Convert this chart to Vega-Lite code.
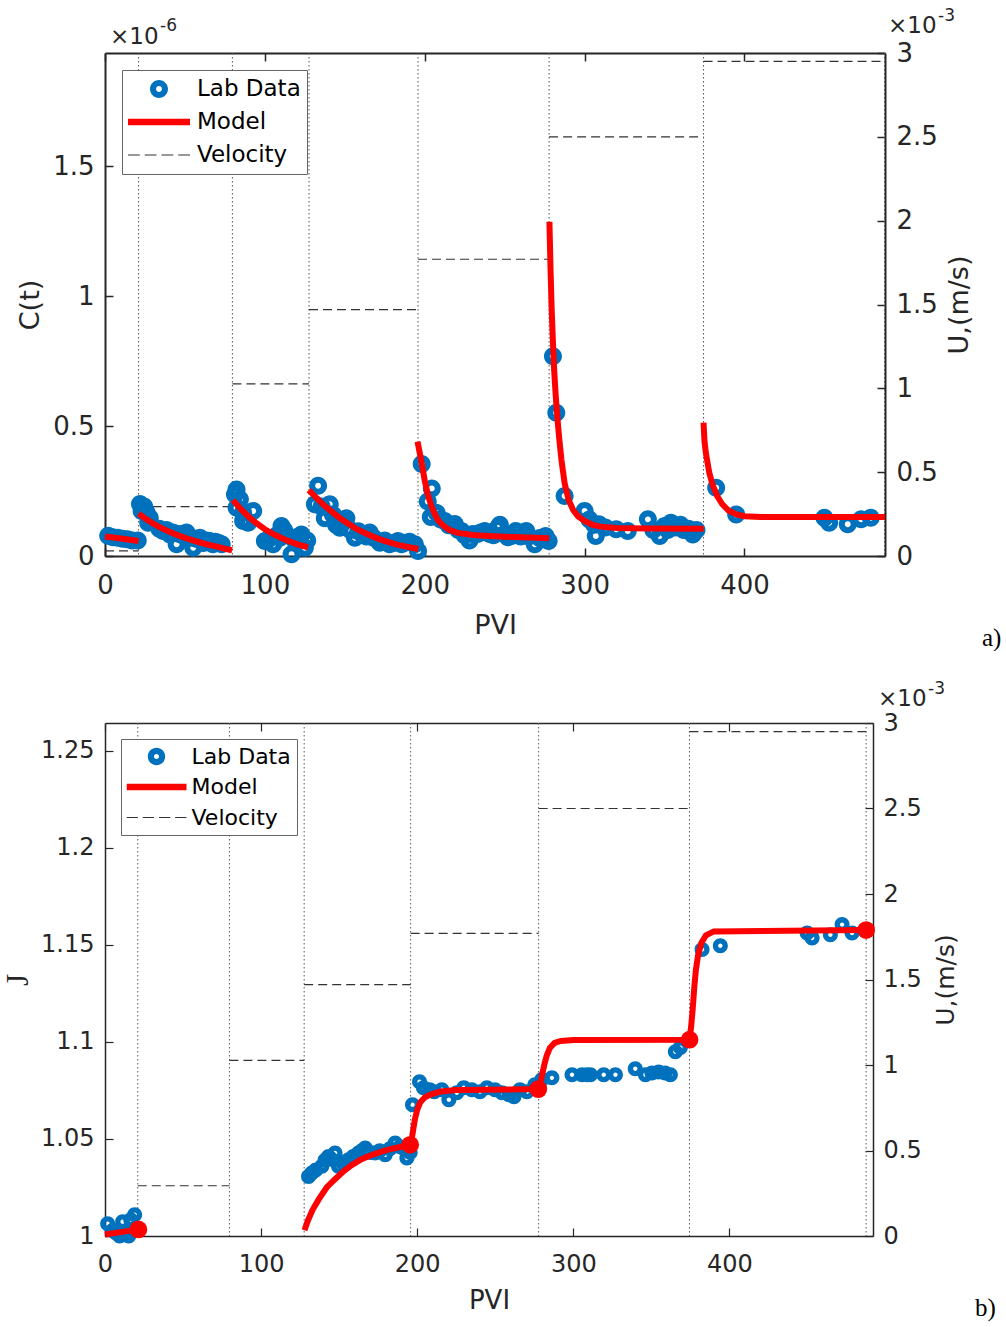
{
  "$schema": "https://vega.github.io/schema/vega-lite/v6.json",
  "background": "white",
  "padding": {"left": 2, "top": 7, "right": 2, "bottom": 3},
  "spacing": 29,
  "resolve": {"scale": {"color": "independent", "shape": "independent"}, "legend": {"color": "independent", "shape": "independent"}},
  "datasets": {
    "one": [{}],
    "vel_top": [
      {"x0": 0, "x1": 21, "u": 0.03}, {"x0": 21, "x1": 79.7, "u": 0.294}, {"x0": 79.7, "x1": 127.6, "u": 1.027},
      {"x0": 127.6, "x1": 195.8, "u": 1.47}, {"x0": 195.8, "x1": 277.8, "u": 1.77}, {"x0": 277.8, "x1": 374.4, "u": 2.5},
      {"x0": 374.4, "x1": 487.9, "u": 2.95}
    ],
    "vel_bot": [
      {"x0": 0, "x1": 21, "u": 0.03}, {"x0": 21, "x1": 79.7, "u": 0.294}, {"x0": 79.7, "x1": 127.6, "u": 1.027},
      {"x0": 127.6, "x1": 195.8, "u": 1.47}, {"x0": 195.8, "x1": 277.8, "u": 1.77}, {"x0": 277.8, "x1": 374.4, "u": 2.5},
      {"x0": 374.4, "x1": 487.6, "u": 2.95}
    ],
    "div": [{"p": 21}, {"p": 79.7}, {"p": 127.6}, {"p": 195.8}, {"p": 277.8}, {"p": 374.4}, {"p": 487.6}],
    "pts_top": [
      {"p": 2, "c": 0.078}, {"p": 5, "c": 0.072}, {"p": 8, "c": 0.07}, {"p": 11, "c": 0.066}, {"p": 14, "c": 0.064}, {"p": 17, "c": 0.06}, {"p": 20.5, "c": 0.06},
      {"p": 21.9, "c": 0.2}, {"p": 22.9, "c": 0.173}, {"p": 24.5, "c": 0.19}, {"p": 26, "c": 0.167}, {"p": 27, "c": 0.128}, {"p": 28, "c": 0.147},
      {"p": 34, "c": 0.105}, {"p": 36.4, "c": 0.096}, {"p": 38.5, "c": 0.1}, {"p": 40.6, "c": 0.083}, {"p": 42.5, "c": 0.09}, {"p": 44.8, "c": 0.045},
      {"p": 46.5, "c": 0.085}, {"p": 48.5, "c": 0.08}, {"p": 51, "c": 0.09}, {"p": 53, "c": 0.07}, {"p": 55.2, "c": 0.032}, {"p": 57, "c": 0.066},
      {"p": 59.4, "c": 0.07}, {"p": 61.5, "c": 0.05}, {"p": 63.5, "c": 0.06}, {"p": 65.6, "c": 0.058}, {"p": 67.5, "c": 0.045}, {"p": 69, "c": 0.055},
      {"p": 70.8, "c": 0.051}, {"p": 73, "c": 0.045},
      {"p": 81.3, "c": 0.237}, {"p": 82.3, "c": 0.256}, {"p": 82.3, "c": 0.186}, {"p": 84.4, "c": 0.218}, {"p": 86.4, "c": 0.167}, {"p": 86.4, "c": 0.135},
      {"p": 89.6, "c": 0.128}, {"p": 92.7, "c": 0.173}, {"p": 100, "c": 0.058}, {"p": 102.5, "c": 0.065}, {"p": 105.2, "c": 0.045}, {"p": 107.5, "c": 0.08},
      {"p": 109.4, "c": 0.07}, {"p": 110.4, "c": 0.115}, {"p": 112, "c": 0.1}, {"p": 113.5, "c": 0.083}, {"p": 116.7, "c": 0.007}, {"p": 118, "c": 0.065},
      {"p": 119.8, "c": 0.058}, {"p": 121, "c": 0.075}, {"p": 122.9, "c": 0.083}, {"p": 125, "c": 0.032}, {"p": 126.5, "c": 0.06},
      {"p": 131.3, "c": 0.199}, {"p": 133.3, "c": 0.27}, {"p": 135.5, "c": 0.19}, {"p": 137.5, "c": 0.145}, {"p": 140.6, "c": 0.199}, {"p": 142.5, "c": 0.16},
      {"p": 144.5, "c": 0.12}, {"p": 146.9, "c": 0.109}, {"p": 149, "c": 0.13}, {"p": 151, "c": 0.145}, {"p": 153.5, "c": 0.1}, {"p": 156.3, "c": 0.07},
      {"p": 158.5, "c": 0.095}, {"p": 161.5, "c": 0.083}, {"p": 163.5, "c": 0.075}, {"p": 165.6, "c": 0.09}, {"p": 168, "c": 0.07}, {"p": 171.9, "c": 0.051},
      {"p": 175, "c": 0.06}, {"p": 178, "c": 0.045}, {"p": 180.5, "c": 0.05}, {"p": 183.3, "c": 0.058}, {"p": 185.5, "c": 0.045}, {"p": 187.5, "c": 0.051},
      {"p": 190.5, "c": 0.055}, {"p": 193.8, "c": 0.045}, {"p": 195.8, "c": 0.019},
      {"p": 198.1, "c": 0.354}, {"p": 201.9, "c": 0.21}, {"p": 203.8, "c": 0.15}, {"p": 204.4, "c": 0.26}, {"p": 207.5, "c": 0.165}, {"p": 210, "c": 0.14},
      {"p": 212.5, "c": 0.135}, {"p": 215, "c": 0.118}, {"p": 218.8, "c": 0.123}, {"p": 221, "c": 0.1}, {"p": 223, "c": 0.096}, {"p": 225, "c": 0.08},
      {"p": 228, "c": 0.06}, {"p": 230, "c": 0.085}, {"p": 233, "c": 0.085}, {"p": 235, "c": 0.09}, {"p": 237.5, "c": 0.096}, {"p": 240.6, "c": 0.085},
      {"p": 243, "c": 0.08}, {"p": 245.6, "c": 0.108}, {"p": 247, "c": 0.12}, {"p": 250, "c": 0.085}, {"p": 252, "c": 0.072}, {"p": 254.4, "c": 0.077},
      {"p": 257, "c": 0.096}, {"p": 260, "c": 0.075}, {"p": 263.5, "c": 0.096}, {"p": 265, "c": 0.075}, {"p": 268.8, "c": 0.045}, {"p": 271.9, "c": 0.069},
      {"p": 274, "c": 0.07}, {"p": 275.6, "c": 0.077}, {"p": 277.5, "c": 0.058},
      {"p": 280.2, "c": 0.768}, {"p": 282.3, "c": 0.551}, {"p": 287.5, "c": 0.231}, {"p": 300, "c": 0.173}, {"p": 303, "c": 0.14}, {"p": 306, "c": 0.12},
      {"p": 307, "c": 0.077}, {"p": 309, "c": 0.122}, {"p": 313, "c": 0.11}, {"p": 319.8, "c": 0.103}, {"p": 327, "c": 0.096}, {"p": 339.6, "c": 0.141},
      {"p": 343, "c": 0.1}, {"p": 347, "c": 0.077}, {"p": 350, "c": 0.115}, {"p": 352, "c": 0.1}, {"p": 354, "c": 0.128}, {"p": 357, "c": 0.11},
      {"p": 360, "c": 0.12}, {"p": 362, "c": 0.1}, {"p": 365, "c": 0.105}, {"p": 367.7, "c": 0.083}, {"p": 370, "c": 0.1},
      {"p": 382.3, "c": 0.263}, {"p": 394.8, "c": 0.16}, {"p": 450, "c": 0.147}, {"p": 453, "c": 0.128}, {"p": 464.6, "c": 0.122}, {"p": 473, "c": 0.141}, {"p": 479, "c": 0.147}
    ],
    "mod_top": [
      {"p": 0, "c": 0.075, "s": 1}, {"p": 10, "c": 0.067, "s": 1}, {"p": 21, "c": 0.058, "s": 1},
      {"p": 21, "c": 0.163, "s": 2}, {"p": 25, "c": 0.145, "s": 2}, {"p": 30, "c": 0.125, "s": 2}, {"p": 35, "c": 0.108, "s": 2}, {"p": 40, "c": 0.094, "s": 2},
      {"p": 45, "c": 0.081, "s": 2}, {"p": 50, "c": 0.07, "s": 2}, {"p": 55, "c": 0.06, "s": 2}, {"p": 60, "c": 0.051, "s": 2}, {"p": 65, "c": 0.043, "s": 2},
      {"p": 70, "c": 0.036, "s": 2}, {"p": 75, "c": 0.028, "s": 2}, {"p": 79.5, "c": 0.022, "s": 2},
      {"p": 80, "c": 0.215, "s": 3}, {"p": 85, "c": 0.18, "s": 3}, {"p": 90, "c": 0.15, "s": 3}, {"p": 95, "c": 0.125, "s": 3}, {"p": 100, "c": 0.103, "s": 3},
      {"p": 105, "c": 0.085, "s": 3}, {"p": 110, "c": 0.07, "s": 3}, {"p": 115, "c": 0.057, "s": 3}, {"p": 120, "c": 0.046, "s": 3}, {"p": 127, "c": 0.033, "s": 3},
      {"p": 127.5, "c": 0.253, "s": 4}, {"p": 132, "c": 0.225, "s": 4}, {"p": 137, "c": 0.195, "s": 4}, {"p": 142, "c": 0.17, "s": 4}, {"p": 147, "c": 0.145, "s": 4},
      {"p": 152, "c": 0.125, "s": 4}, {"p": 157, "c": 0.105, "s": 4}, {"p": 162, "c": 0.09, "s": 4}, {"p": 167, "c": 0.076, "s": 4}, {"p": 172, "c": 0.064, "s": 4},
      {"p": 177, "c": 0.054, "s": 4}, {"p": 182, "c": 0.045, "s": 4}, {"p": 187, "c": 0.038, "s": 4}, {"p": 192, "c": 0.032, "s": 4}, {"p": 196, "c": 0.027, "s": 4},
      {"p": 195.5, "c": 0.44, "s": 5}, {"p": 198, "c": 0.36, "s": 5}, {"p": 200, "c": 0.29, "s": 5}, {"p": 202, "c": 0.235, "s": 5}, {"p": 204, "c": 0.195, "s": 5},
      {"p": 206, "c": 0.165, "s": 5}, {"p": 208, "c": 0.14, "s": 5}, {"p": 211, "c": 0.12, "s": 5}, {"p": 215, "c": 0.102, "s": 5}, {"p": 220, "c": 0.09, "s": 5},
      {"p": 230, "c": 0.081, "s": 5}, {"p": 240, "c": 0.077, "s": 5}, {"p": 250, "c": 0.074, "s": 5}, {"p": 260, "c": 0.072, "s": 5}, {"p": 270, "c": 0.07, "s": 5},
      {"p": 277.8, "c": 0.068, "s": 5},
      {"p": 278, "c": 1.286, "s": 6}, {"p": 278.7, "c": 1.1, "s": 6}, {"p": 279.4, "c": 0.95, "s": 6}, {"p": 280.2, "c": 0.82, "s": 6}, {"p": 281, "c": 0.71, "s": 6},
      {"p": 282, "c": 0.61, "s": 6}, {"p": 283, "c": 0.53, "s": 6}, {"p": 284, "c": 0.46, "s": 6}, {"p": 285.5, "c": 0.37, "s": 6}, {"p": 287.5, "c": 0.28, "s": 6},
      {"p": 290, "c": 0.215, "s": 6}, {"p": 293, "c": 0.175, "s": 6}, {"p": 296, "c": 0.152, "s": 6}, {"p": 300, "c": 0.135, "s": 6}, {"p": 305, "c": 0.12, "s": 6},
      {"p": 310, "c": 0.113, "s": 6}, {"p": 320, "c": 0.108, "s": 6}, {"p": 340, "c": 0.106, "s": 6}, {"p": 374.4, "c": 0.105, "s": 6},
      {"p": 374.4, "c": 0.513, "s": 7}, {"p": 375, "c": 0.44, "s": 7}, {"p": 376, "c": 0.39, "s": 7}, {"p": 378, "c": 0.32, "s": 7}, {"p": 380, "c": 0.275, "s": 7},
      {"p": 383, "c": 0.23, "s": 7}, {"p": 386, "c": 0.2, "s": 7}, {"p": 390, "c": 0.175, "s": 7}, {"p": 395, "c": 0.16, "s": 7}, {"p": 400, "c": 0.153, "s": 7},
      {"p": 410, "c": 0.15, "s": 7}, {"p": 487.9, "c": 0.15, "s": 7}
    ],
    "pts_bot": [
      {"p": 1.7, "j": 1.0063}, {"p": 5, "j": 1.003}, {"p": 6.9, "j": 1.0017}, {"p": 9.4, "j": 1.0}, {"p": 11.3, "j": 1.0074}, {"p": 13.3, "j": 1.0017},
      {"p": 15.2, "j": 1.0}, {"p": 16.5, "j": 1.0084}, {"p": 19, "j": 1.011}, {"p": 20.3, "j": 1.0043},
      {"p": 130.4, "j": 1.0307}, {"p": 132.5, "j": 1.0325}, {"p": 135, "j": 1.034}, {"p": 138.9, "j": 1.0359}, {"p": 141, "j": 1.039}, {"p": 143.2, "j": 1.041},
      {"p": 145, "j": 1.0395}, {"p": 147.4, "j": 1.0428}, {"p": 149.6, "j": 1.0359}, {"p": 152, "j": 1.038}, {"p": 156, "j": 1.0393}, {"p": 159, "j": 1.041},
      {"p": 162.4, "j": 1.0428}, {"p": 164.5, "j": 1.044}, {"p": 166.7, "j": 1.0454}, {"p": 170, "j": 1.043}, {"p": 173.1, "j": 1.0428}, {"p": 176, "j": 1.044},
      {"p": 179.5, "j": 1.0419}, {"p": 182.5, "j": 1.045}, {"p": 185.9, "j": 1.0479}, {"p": 189, "j": 1.046}, {"p": 192.3, "j": 1.0445}, {"p": 193.4, "j": 1.0402},
      {"p": 195.5, "j": 1.043},
      {"p": 197, "j": 1.0677}, {"p": 201.5, "j": 1.0795}, {"p": 204, "j": 1.0764}, {"p": 208, "j": 1.0754}, {"p": 211, "j": 1.0744}, {"p": 215.8, "j": 1.0754},
      {"p": 220.3, "j": 1.0702}, {"p": 225.4, "j": 1.0738}, {"p": 229.9, "j": 1.0764}, {"p": 235, "j": 1.0754}, {"p": 240.2, "j": 1.0744}, {"p": 244.7, "j": 1.0764},
      {"p": 249.8, "j": 1.0754}, {"p": 254.3, "j": 1.0738}, {"p": 258.8, "j": 1.0728}, {"p": 262, "j": 1.0718}, {"p": 265.8, "j": 1.0754}, {"p": 270.3, "j": 1.0744},
      {"p": 275.4, "j": 1.078}, {"p": 279.9, "j": 1.0806},
      {"p": 286.3, "j": 1.0815}, {"p": 299.2, "j": 1.0831}, {"p": 305.6, "j": 1.0831}, {"p": 308.8, "j": 1.0831}, {"p": 311, "j": 1.0831}, {"p": 319.5, "j": 1.0831},
      {"p": 327, "j": 1.0831}, {"p": 339.7, "j": 1.0862}, {"p": 346.2, "j": 1.0831}, {"p": 350.4, "j": 1.084}, {"p": 354.7, "j": 1.0845}, {"p": 358.8, "j": 1.084},
      {"p": 362.2, "j": 1.0831}, {"p": 365.4, "j": 1.095}, {"p": 368.6, "j": 1.0971},
      {"p": 382.5, "j": 1.1476}, {"p": 394.2, "j": 1.1496}, {"p": 449.8, "j": 1.1562}, {"p": 453, "j": 1.1536}, {"p": 464.7, "j": 1.1553}, {"p": 472.2, "j": 1.1605},
      {"p": 478.6, "j": 1.1562}
    ],
    "mod_bot": [
      {"p": 0, "j": 1.0008, "s": 1}, {"p": 10, "j": 1.002, "s": 1}, {"p": 21.4, "j": 1.0034, "s": 1},
      {"p": 127.8, "j": 1.003, "s": 2}, {"p": 130, "j": 1.008, "s": 2}, {"p": 133, "j": 1.0135, "s": 2}, {"p": 137, "j": 1.019, "s": 2}, {"p": 142, "j": 1.025, "s": 2},
      {"p": 147, "j": 1.029, "s": 2}, {"p": 153, "j": 1.0335, "s": 2}, {"p": 158, "j": 1.0365, "s": 2}, {"p": 164, "j": 1.0395, "s": 2}, {"p": 170, "j": 1.0415, "s": 2},
      {"p": 177, "j": 1.0435, "s": 2}, {"p": 184, "j": 1.045, "s": 2}, {"p": 190, "j": 1.046, "s": 2}, {"p": 195.5, "j": 1.047, "s": 2}, {"p": 196.5, "j": 1.05, "s": 2},
      {"p": 197.5, "j": 1.055, "s": 2}, {"p": 198.5, "j": 1.06, "s": 2}, {"p": 200, "j": 1.065, "s": 2}, {"p": 202, "j": 1.069, "s": 2}, {"p": 205, "j": 1.0715, "s": 2},
      {"p": 209, "j": 1.073, "s": 2}, {"p": 215, "j": 1.0745, "s": 2}, {"p": 225, "j": 1.0752, "s": 2}, {"p": 277.6, "j": 1.0757, "s": 2}, {"p": 279, "j": 1.079, "s": 2},
      {"p": 280, "j": 1.083, "s": 2}, {"p": 281.5, "j": 1.0885, "s": 2}, {"p": 283, "j": 1.093, "s": 2}, {"p": 285, "j": 1.097, "s": 2}, {"p": 288, "j": 1.0995, "s": 2},
      {"p": 292, "j": 1.1005, "s": 2}, {"p": 300, "j": 1.101, "s": 2}, {"p": 374.5, "j": 1.1012, "s": 2}, {"p": 375.5, "j": 1.108, "s": 2}, {"p": 376.5, "j": 1.117, "s": 2},
      {"p": 377.5, "j": 1.128, "s": 2}, {"p": 378.5, "j": 1.137, "s": 2}, {"p": 380, "j": 1.145, "s": 2}, {"p": 382, "j": 1.151, "s": 2}, {"p": 385, "j": 1.155, "s": 2},
      {"p": 390, "j": 1.157, "s": 2}, {"p": 487.6, "j": 1.1577, "s": 2}
    ],
    "dots_bot": [
      {"p": 21.4, "j": 1.0034}, {"p": 195.5, "j": 1.047}, {"p": 277.6, "j": 1.0757}, {"p": 374.5, "j": 1.1012}, {"p": 487.6, "j": 1.1577}
    ]
  },
  "vconcat": [
    {
      "width": 780,
      "height": 503,
      "resolve": {"scale": {"y": "independent"}, "axis": {"x": "independent", "y": "independent"}},
      "layer": [
        {
          "data": {"name": "div"},
          "mark": {"type": "rule", "color": "#555555", "strokeDash": [1.5, 2.5], "strokeWidth": 1},
          "encoding": {
            "x": {"field": "p", "type": "quantitative", "scale": {"domain": [0, 487.9], "nice": false, "zero": false},
              "axis": {"orient": "top", "values": [0, 100, 200, 300, 400], "labels": false, "title": null, "tickSize": -8, "tickWidth": 1.5, "domainWidth": 2, "domainColor": "#262626", "tickColor": "#262626"}}
          }
        },
        {
          "data": {"name": "vel_top"},
          "mark": {"type": "rule", "color": "#333333", "strokeDash": [9, 5], "strokeWidth": 1.2},
          "encoding": {
            "x": {"field": "x0", "type": "quantitative", "scale": {"domain": [0, 487.9], "nice": false, "zero": false}, "axis": null},
            "x2": {"field": "x1"},
            "y": {"field": "u", "type": "quantitative", "scale": {"domain": [0, 3], "nice": false, "zero": false},
              "axis": {"orient": "right", "values": [0, 0.5, 1, 1.5, 2, 2.5, 3], "labelExpr": "'' + datum.value", "title": "U,(m/s)", "titleAngle": 270, "titleBaseline": "top",
                "titleFontSize": 27, "labelFontSize": 26, "tickSize": -8, "tickWidth": 1.5, "domainWidth": 2, "labelPadding": 19, "titlePadding": 9,
                "labelFlush": false, "labelOverlap": false}}
          }
        },
        {
          "data": {"name": "pts_top"},
          "mark": {"type": "point", "filled": true, "size": 3844, "strokeWidth": 0, "opacity": 1},
          "encoding": {
            "x": {"field": "p", "type": "quantitative", "scale": {"domain": [0, 487.9], "nice": false, "zero": false},
              "axis": {"orient": "bottom", "values": [0, 100, 200, 300, 400], "title": "PVI", "titleFontSize": 27, "labelFontSize": 26, "tickSize": -8, "tickWidth": 1.5,
                "domainWidth": 2, "labelPadding": 24, "titlePadding": 14, "labelFlush": false, "labelOverlap": false}},
            "y": {"field": "c", "type": "quantitative", "scale": {"domain": [0, 1.935], "nice": false, "zero": false},
              "axis": {"orient": "left", "values": [0, 0.5, 1, 1.5], "labelExpr": "'' + datum.value", "title": "C(t)", "titleFontSize": 27, "labelFontSize": 26,
                "tickSize": -8, "tickWidth": 1.5, "domainWidth": 2, "labelPadding": 19, "titlePadding": 8, "labelFlush": false, "labelOverlap": false}},
            "color": {"datum": "Lab Data", "type": "nominal",
              "scale": {"domain": ["Lab Data", "Model", "Velocity"], "range": ["#0072BD", "#FF0000", "#333333"]},
              "legend": {"title": null, "orient": "none", "legendX": 17, "legendY": 17, "symbolSize": 3844, "clipHeight": 26, "rowPadding": 7, "padding": 6,
                "labelOffset": 7, "labelFont": "DejaVu Sans", "labelFontSize": 23, "labelColor": "#000000", "strokeColor": "#666666", "fillColor": "#ffffff",
                "symbolStrokeWidth": 0, "symbolOffset": 0}},
            "shape": {"datum": "Lab Data", "type": "nominal",
              "scale": {"domain": ["Lab Data", "Model", "Velocity"], "range": [
                "M-0.29,0A0.29,0.29,0,1,0,0.29,0A0.29,0.29,0,1,0,-0.29,0ZM-0.095,0A0.095,0.095,0,1,1,0.095,0A0.095,0.095,0,1,1,-0.095,0Z",
                "M-1,-0.105H1V0.105H-1Z",
                "M-1,-0.02H-0.62V0.02H-1ZM-0.46,-0.02H-0.08V0.02H-0.46ZM0.08,-0.02H0.46V0.02H0.08ZM0.62,-0.02H1V0.02H0.62Z"]},
              "legend": {"title": null, "orient": "none", "legendX": 17, "legendY": 17, "symbolSize": 3844, "clipHeight": 26, "rowPadding": 7, "padding": 6,
                "labelOffset": 7, "labelFont": "DejaVu Sans", "labelFontSize": 23, "labelColor": "#000000", "strokeColor": "#666666", "fillColor": "#ffffff",
                "symbolStrokeWidth": 0, "symbolOffset": 0}}
          }
        },
        {
          "data": {"name": "mod_top"},
          "mark": {"type": "line", "color": "#FF0000", "strokeWidth": 6},
          "encoding": {
            "x": {"field": "p", "type": "quantitative", "scale": {"domain": [0, 487.9], "nice": false, "zero": false}, "axis": null},
            "y": {"field": "c", "type": "quantitative", "scale": {"domain": [0, 1.935], "nice": false, "zero": false}, "axis": null},
            "detail": {"field": "s", "type": "nominal"}
          }
        },
        {
          "data": {"name": "one"},
          "mark": {"type": "text", "text": "×10", "align": "left", "baseline": "alphabetic", "dx": 5, "dy": -9, "fontSize": 23, "font": "DejaVu Sans", "color": "#262626"},
          "encoding": {
            "x": {"datum": 0, "type": "quantitative", "scale": {"domain": [0, 487.9], "nice": false, "zero": false}, "axis": null},
            "y": {"datum": 1.935, "type": "quantitative", "scale": {"domain": [0, 1.935], "nice": false, "zero": false}, "axis": null}
          }
        },
        {
          "data": {"name": "one"},
          "mark": {"type": "text", "text": "-6", "align": "left", "baseline": "alphabetic", "dx": 55, "dy": -22, "fontSize": 17, "font": "DejaVu Sans", "color": "#262626"},
          "encoding": {
            "x": {"datum": 0, "type": "quantitative", "scale": {"domain": [0, 487.9], "nice": false, "zero": false}, "axis": null},
            "y": {"datum": 1.935, "type": "quantitative", "scale": {"domain": [0, 1.935], "nice": false, "zero": false}, "axis": null}
          }
        },
        {
          "data": {"name": "one"},
          "mark": {"type": "text", "text": "×10", "align": "left", "baseline": "alphabetic", "dx": 3, "dy": -20, "fontSize": 23, "font": "DejaVu Sans", "color": "#262626"},
          "encoding": {
            "x": {"datum": 487.9, "type": "quantitative", "scale": {"domain": [0, 487.9], "nice": false, "zero": false}, "axis": null},
            "y": {"datum": 1.935, "type": "quantitative", "scale": {"domain": [0, 1.935], "nice": false, "zero": false}, "axis": null}
          }
        },
        {
          "data": {"name": "one"},
          "mark": {"type": "text", "text": "-3", "align": "left", "baseline": "alphabetic", "dx": 53, "dy": -32, "fontSize": 17, "font": "DejaVu Sans", "color": "#262626"},
          "encoding": {
            "x": {"datum": 487.9, "type": "quantitative", "scale": {"domain": [0, 487.9], "nice": false, "zero": false}, "axis": null},
            "y": {"datum": 1.935, "type": "quantitative", "scale": {"domain": [0, 1.935], "nice": false, "zero": false}, "axis": null}
          }
        },
        {
          "data": {"name": "one"},
          "mark": {"type": "text", "text": "a)", "align": "left", "baseline": "alphabetic", "dx": 97, "dy": 90, "fontSize": 25, "font": "Liberation Serif", "color": "#000000"},
          "encoding": {
            "x": {"datum": 487.9, "type": "quantitative", "scale": {"domain": [0, 487.9], "nice": false, "zero": false}, "axis": null},
            "y": {"datum": 0, "type": "quantitative", "scale": {"domain": [0, 1.935], "nice": false, "zero": false}, "axis": null}
          }
        }
      ]
    },
    {
      "width": 768,
      "height": 513,
      "resolve": {"scale": {"y": "independent"}, "axis": {"x": "independent", "y": "independent"}},
      "layer": [
        {
          "data": {"name": "div"},
          "mark": {"type": "rule", "color": "#555555", "strokeDash": [1.5, 2.5], "strokeWidth": 1},
          "encoding": {
            "x": {"field": "p", "type": "quantitative", "scale": {"domain": [0, 492], "nice": false, "zero": false},
              "axis": {"orient": "top", "values": [0, 100, 200, 300, 400], "labels": false, "title": null, "tickSize": -8, "tickWidth": 1.2, "domainWidth": 1.5, "domainColor": "#262626", "tickColor": "#262626"}}
          }
        },
        {
          "data": {"name": "vel_bot"},
          "mark": {"type": "rule", "color": "#333333", "strokeDash": [9, 5], "strokeWidth": 1.2},
          "encoding": {
            "x": {"field": "x0", "type": "quantitative", "scale": {"domain": [0, 492], "nice": false, "zero": false}, "axis": null},
            "x2": {"field": "x1"},
            "y": {"field": "u", "type": "quantitative", "scale": {"domain": [0, 3], "nice": false, "zero": false},
              "axis": {"orient": "right", "values": [0, 0.5, 1, 1.5, 2, 2.5, 3], "labelExpr": "'' + datum.value", "title": "U,(m/s)", "titleAngle": 270, "titleBaseline": "top",
                "titleFontSize": 25, "labelFontSize": 24, "tickSize": -8, "tickWidth": 1.2, "domainWidth": 1.5, "labelPadding": 18, "titlePadding": 12,
                "labelFlush": false, "labelOverlap": false}}
          }
        },
        {
          "data": {"name": "pts_bot"},
          "mark": {"type": "point", "filled": true, "size": 2675, "strokeWidth": 0, "opacity": 1},
          "encoding": {
            "x": {"field": "p", "type": "quantitative", "scale": {"domain": [0, 492], "nice": false, "zero": false},
              "axis": {"orient": "bottom", "values": [0, 100, 200, 300, 400], "title": "PVI", "titleFontSize": 26, "labelFontSize": 24, "tickSize": -8, "tickWidth": 1.2,
                "domainWidth": 1.5, "labelPadding": 24, "titlePadding": 11, "labelFlush": false, "labelOverlap": false}},
            "y": {"field": "j", "type": "quantitative", "scale": {"domain": [1, 1.2644], "nice": false, "zero": false},
              "axis": {"orient": "left", "values": [1, 1.05, 1.1, 1.15, 1.2, 1.25], "labelExpr": "'' + datum.value", "title": "J", "titleFont": "Liberation Serif",
                "titleFontSize": 31, "labelFontSize": 24, "tickSize": -8, "tickWidth": 1.2, "domainWidth": 1.5, "labelPadding": 19, "titlePadding": 6,
                "labelFlush": false, "labelOverlap": false}},
            "color": {"datum": "Lab Data", "type": "nominal",
              "scale": {"domain": ["Lab Data", "Model", "Velocity"], "range": ["#0072BD", "#FF0000", "#333333"]},
              "legend": {"title": null, "orient": "none", "legendX": 16, "legendY": 16, "symbolSize": 3600, "clipHeight": 24, "rowPadding": 6.5, "padding": 5.5,
                "labelOffset": 5, "labelFont": "DejaVu Sans", "labelFontSize": 22, "labelColor": "#000000", "strokeColor": "#666666", "fillColor": "#ffffff",
                "symbolStrokeWidth": 0, "symbolOffset": 0}},
            "shape": {"datum": "Lab Data", "type": "nominal",
              "scale": {"domain": ["Lab Data", "Model", "Velocity"], "range": [
                "M-0.29,0A0.29,0.29,0,1,0,0.29,0A0.29,0.29,0,1,0,-0.29,0ZM-0.085,0A0.085,0.085,0,1,1,0.085,0A0.085,0.085,0,1,1,-0.085,0Z",
                "M-1,-0.105H1V0.105H-1Z",
                "M-1,-0.02H-0.62V0.02H-1ZM-0.46,-0.02H-0.08V0.02H-0.46ZM0.08,-0.02H0.46V0.02H0.08ZM0.62,-0.02H1V0.02H0.62Z"]},
              "legend": {"title": null, "orient": "none", "legendX": 16, "legendY": 16, "symbolSize": 3600, "clipHeight": 24, "rowPadding": 6.5, "padding": 5.5,
                "labelOffset": 5, "labelFont": "DejaVu Sans", "labelFontSize": 22, "labelColor": "#000000", "strokeColor": "#666666", "fillColor": "#ffffff",
                "symbolStrokeWidth": 0, "symbolOffset": 0}}
          }
        },
        {
          "data": {"name": "mod_bot"},
          "mark": {"type": "line", "color": "#FF0000", "strokeWidth": 6},
          "encoding": {
            "x": {"field": "p", "type": "quantitative", "scale": {"domain": [0, 492], "nice": false, "zero": false}, "axis": null},
            "y": {"field": "j", "type": "quantitative", "scale": {"domain": [1, 1.2644], "nice": false, "zero": false}, "axis": null},
            "detail": {"field": "s", "type": "nominal"}
          }
        },
        {
          "data": {"name": "dots_bot"},
          "mark": {"type": "point", "filled": true, "size": 314, "color": "#FF0000", "strokeWidth": 0, "opacity": 1},
          "encoding": {
            "x": {"field": "p", "type": "quantitative", "scale": {"domain": [0, 492], "nice": false, "zero": false}, "axis": null},
            "y": {"field": "j", "type": "quantitative", "scale": {"domain": [1, 1.2644], "nice": false, "zero": false}, "axis": null}
          }
        },
        {
          "data": {"name": "one"},
          "mark": {"type": "text", "text": "×10", "align": "left", "baseline": "alphabetic", "dx": 5, "dy": -17, "fontSize": 23, "font": "DejaVu Sans", "color": "#262626"},
          "encoding": {
            "x": {"datum": 492, "type": "quantitative", "scale": {"domain": [0, 492], "nice": false, "zero": false}, "axis": null},
            "y": {"datum": 1.2644, "type": "quantitative", "scale": {"domain": [1, 1.2644], "nice": false, "zero": false}, "axis": null}
          }
        },
        {
          "data": {"name": "one"},
          "mark": {"type": "text", "text": "-3", "align": "left", "baseline": "alphabetic", "dx": 55, "dy": -29, "fontSize": 17, "font": "DejaVu Sans", "color": "#262626"},
          "encoding": {
            "x": {"datum": 492, "type": "quantitative", "scale": {"domain": [0, 492], "nice": false, "zero": false}, "axis": null},
            "y": {"datum": 1.2644, "type": "quantitative", "scale": {"domain": [1, 1.2644], "nice": false, "zero": false}, "axis": null}
          }
        },
        {
          "data": {"name": "one"},
          "mark": {"type": "text", "text": "b)", "align": "left", "baseline": "alphabetic", "dx": 102, "dy": 80, "fontSize": 25, "font": "Liberation Serif", "color": "#000000"},
          "encoding": {
            "x": {"datum": 492, "type": "quantitative", "scale": {"domain": [0, 492], "nice": false, "zero": false}, "axis": null},
            "y": {"datum": 1, "type": "quantitative", "scale": {"domain": [1, 1.2644], "nice": false, "zero": false}, "axis": null}
          }
        }
      ]
    }
  ],
  "config": {
    "view": {"stroke": null},
    "axis": {"grid": false, "domainColor": "#262626", "tickColor": "#262626", "labelColor": "#262626", "titleColor": "#262626",
      "labelFont": "DejaVu Sans", "titleFont": "DejaVu Sans", "titleFontWeight": "normal"},
    "text": {"font": "DejaVu Sans"}
  }
}
